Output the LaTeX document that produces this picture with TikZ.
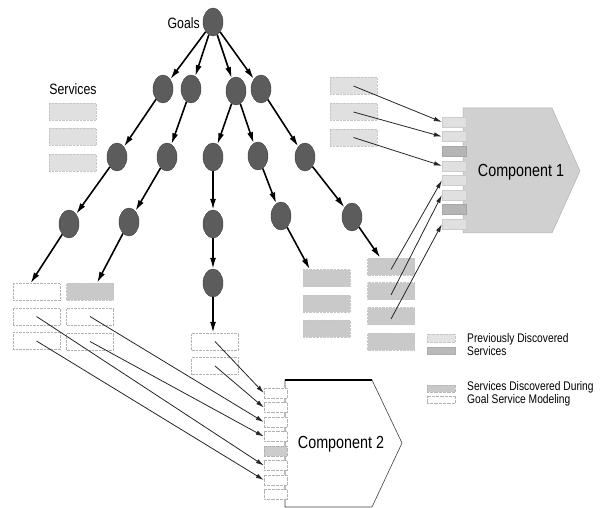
\documentclass[tikz,border=0pt]{standalone}
\usepackage{fontspec}
\setmainfont{Liberation Sans}[FakeStretch=0.82]
\usetikzlibrary{arrows.meta,shapes.geometric}
\begin{document}
\begin{tikzpicture}[x=1pt,y=-1pt,
  goal/.style={ellipse, minimum width=20pt, minimum height=28pt, inner sep=0pt, fill=black!64, draw=black!75, line width=0.4pt},
  treeedge/.style={line width=1.6pt, -{Latex[length=11pt,width=6pt]}},
  link/.style={line width=0.8pt, draw=black!85, -{Latex[length=8pt,width=4.5pt]}},
  svc/.style={rectangle, minimum width=47pt, minimum height=17pt, inner sep=0pt, draw=gray!45, densely dotted, line width=0.4pt},
  svclight/.style={svc, fill=gray!24},
  svcmid/.style={svc, fill=gray!42},
  svcwhite/.style={svc, fill=white, draw=gray!60},
  port/.style={rectangle, minimum width=24pt, minimum height=10pt, inner sep=0pt, line width=0.3pt},
  portlight/.style={port, fill=gray!24, draw=gray!40},
  portdark/.style={port, fill=gray!58, draw=gray!70},
  portwhite/.style={port, fill=white, draw=gray!60, densely dotted},
  portmid/.style={port, fill=gray!40, draw=gray!60, densely dotted},
  swatch/.style={rectangle, minimum width=28pt, minimum height=7.5pt, inner sep=0pt, line width=0.3pt},
  lbl/.style={inner sep=0pt, font=\fontsize{15}{17}\selectfont},
  complbl/.style={inner sep=0pt, font=\fontsize{17.5}{20}\selectfont},
  legtxt/.style={inner sep=0pt, anchor=west, align=left, font=\fontsize{12.5}{12.8}\selectfont}
]
\useasboundingbox (0,0) rectangle (603,508);

% ---------- Component 1 ----------
\draw[fill=gray!37, draw=gray!60, line width=0.5pt] (463,108) -- (552,108) -- (580,171) -- (552,233) -- (463,233) -- cycle;
\node[complbl] (c1) at (521,172) {Component 1};
\foreach \i/\s in {0/portlight,1/portlight,2/portdark,3/portlight,4/portlight,5/portlight,6/portdark,7/portlight}{
  \node[\s] (p1\i) at (454,{122+14.6*\i}) {};
}

% ---------- Component 2 ----------
\draw[fill=white, draw=black!75, line width=0.6pt] (285,380) -- (372,380) -- (402,443) -- (372,507) -- (285,507) -- cycle;
\draw[line width=1.2pt] (285,380) -- (372,380);
\node[complbl] (c2) at (341,444) {Component 2};
\foreach \i/\s in {0/portwhite,1/portwhite,2/portwhite,3/portwhite,4/portmid,5/portwhite,6/portwhite,7/portwhite}{
  \node[\s, minimum width=23pt] (p2\i) at (275.5,{393+14.5*\i}) {};
}

% ---------- Service boxes ----------
\node[lbl] (svclbl) at (73,89) {Services};
\node[svclight] (s1) at (72.5,111.5) {};
\node[svclight] (s2) at (72.5,137) {};
\node[svclight] (s3) at (72.5,162.5) {};

\node[svclight] (u1) at (353.5,86) {};
\node[svclight] (u2) at (353.5,112) {};
\node[svclight] (u3) at (353.5,137.5) {};

\node[svcmid] (a1) at (326.5,278) {};
\node[svcmid] (a2) at (326.5,303.5) {};
\node[svcmid] (a3) at (326.5,328.5) {};

\node[svcmid] (b1) at (391,266.5) {};
\node[svcmid] (b2) at (391,291) {};
\node[svcmid] (b3) at (391,316) {};
\node[svcmid] (b4) at (391,341.5) {};

\node[svcwhite] (l1) at (36.5,292) {};
\node[svcwhite] (l2) at (36.5,316.5) {};
\node[svcwhite] (l3) at (36.5,341) {};

\node[svcmid] (r1) at (90,291.5) {};
\node[svcwhite] (r2) at (90,316.5) {};
\node[svcwhite] (r3) at (90,341.5) {};

\node[svcwhite] (m1) at (215,341.5) {};
\node[svcwhite] (m2) at (215,366) {};

% ---------- Goal tree ----------
\node[goal] (g0) at (213,22) {};
\node[lbl, anchor=east] (goalslbl) at (200,23) {Goals};
\node[goal] (g1) at (163,89) {};
\node[goal] (g2) at (191,89) {};
\node[goal] (g3) at (236,91) {};
\node[goal] (g4) at (261,89) {};
\node[goal] (g5) at (117,157) {};
\node[goal] (g6) at (167,157) {};
\node[goal] (g7) at (213,157) {};
\node[goal] (g8) at (258,156) {};
\node[goal] (g9) at (305,157) {};
\node[goal] (g10) at (69,224) {};
\node[goal] (g11) at (129,222) {};
\node[goal] (g12) at (213,224) {};
\node[goal] (g13) at (281,216) {};
\node[goal] (g14) at (352,217) {};
\node[goal] (g15) at (213,283) {};

\draw[treeedge] (g0) -- (g1);
\draw[treeedge] (g0) -- (g2);
\draw[treeedge] (g0) -- (g3);
\draw[treeedge] (g0) -- (g4);
\draw[treeedge] (g1) -- (g5);
\draw[treeedge] (g2) -- (g6);
\draw[treeedge] (g3) -- (g7);
\draw[treeedge] (g3) -- (g8);
\draw[treeedge] (g4) -- (g9);
\draw[treeedge] (g5) -- (g10);
\draw[treeedge] (g6) -- (g11);
\draw[treeedge] (g7) -- (g12);
\draw[treeedge] (g8) -- (g13);
\draw[treeedge] (g9) -- (g14);
\draw[treeedge] (g12) -- (g15);
\draw[treeedge] (g10) -- ([xshift=-6pt]l1.north);
\draw[treeedge] (g11) -- ([xshift=7pt]r1.north);
\draw[treeedge] (g15) -- ([xshift=-2pt]m1.north);
\draw[treeedge] (g13) -- ([xshift=7pt]a1.north west);
\draw[treeedge] (g14) -- ([xshift=13pt]b1.north west);

% ---------- Links to Component 1 ----------
\draw[link] (u1.center) -- (p10.west);
\draw[link] (u2.center) -- (p11.west);
\draw[link] (u3.center) -- (p13.west);
\draw[link] ([yshift=-3pt]b1.center) -- (p14.west);
\draw[link] ([yshift=-4pt]b2.center) -- (p15.west);
\draw[link] ([yshift=-3pt]b3.center) -- (p17.west);

% ---------- Links to Component 2 ----------
\draw[link] (m1.center) -- (p20.west);
\draw[link] (m2.center) -- (p21.west);
\draw[link] (r2.center) -- (p22.west);
\draw[link] (r3.center) -- (p23.west);
\draw[link] (l2.center) -- (p25.west);
\draw[link] (l3.center) -- (p26.west);

% ---------- Legend ----------
\node[swatch, fill=gray!22, draw=gray!45, densely dotted] (sw1) at (441,338) {};
\node[swatch, fill=gray!55, draw=gray!65] (sw2) at (441,350.5) {};
\node[swatch, fill=gray!42, draw=gray!55, densely dotted] (sw3) at (441,388.5) {};
\node[swatch, fill=white, draw=gray!60, densely dotted] (sw4) at (441,399.5) {};
\node[legtxt] (leg1) at (467,344.5) {Previously Discovered\\Services};
\node[legtxt] (leg2) at (467,394) {Services Discovered During\\Goal Service Modeling};
\end{tikzpicture}
\end{document}
